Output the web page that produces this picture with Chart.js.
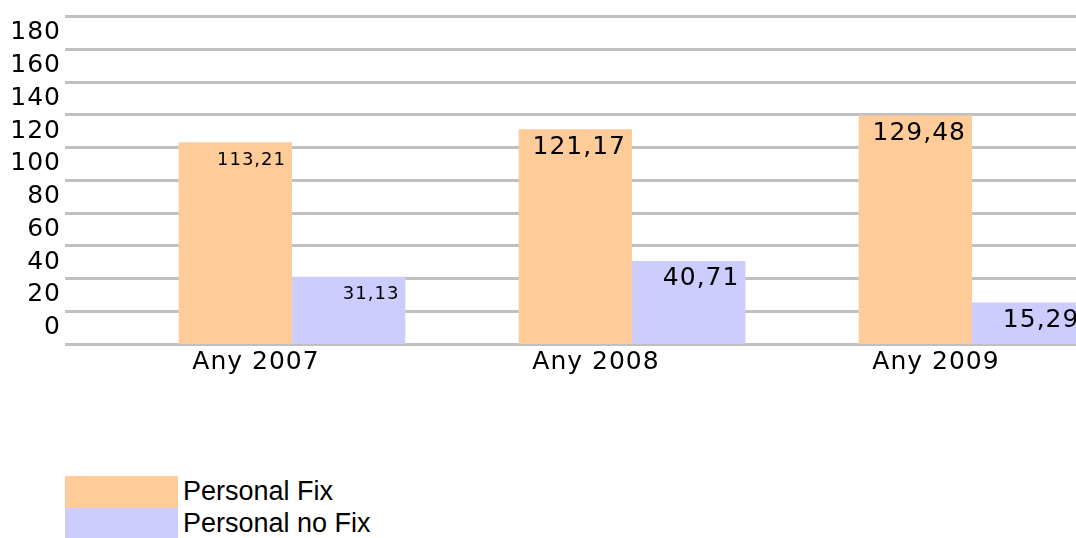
<!DOCTYPE html>
<html>
<head>
<meta charset="utf-8">
<script src="https://cdn.jsdelivr.net/npm/chart.js@4.4.1/dist/chart.umd.min.js"></script>
<style>
  html, body { margin: 0; padding: 0; background: #fff; overflow: hidden; }
  .wrap { position: relative; width: 1150px; height: 390px; }
  .legend { position: absolute; left: 65px; top: 476px; font-family: "Liberation Sans", Arial, sans-serif; font-size: 27px; color: #000; }
  .legend div { display: flex; align-items: center; height: 31.7px; }
  .legend span { display: inline-block; width: 113px; height: 31.7px; margin-right: 5px; }
</style>
</head>
<body>
<div class="wrap"><canvas id="myChart"></canvas></div>
<div class="legend" id="legend"></div>

<script>
// data
const categories = ['Any 2007', 'Any 2008', 'Any 2009'];
const personalFix = [113.21, 121.17, 129.48];
const personalNoFix = [31.13, 40.71, 15.29];
const seriesNames = ['Personal Fix', 'Personal no Fix'];
const yTicks = [0, 20, 40, 60, 80, 100, 120, 140, 160, 180];

const colors = ['#ffcc99', '#ccccff'];
const yMin = -10, yMax = 190;

// value labels inside the bars, decimal comma
const valueLabels = {
  id: 'valueLabels',
  beforeDraw(chart) {
    chart.ctx.letterSpacing = '1px';
  },
  afterDatasetsDraw(chart) {
    const ctx = chart.ctx;
    const sizes = [18, 25, 25];
    ctx.save();
    ctx.fillStyle = '#000';
    ctx.textAlign = 'right';
    ctx.textBaseline = 'middle';
    chart.data.datasets.forEach((ds, d) => {
      chart.getDatasetMeta(d).data.forEach((bar, i) => {
        ctx.font = sizes[i] + 'px "DejaVu Sans"';
        const txt = ds.data[i].toFixed(2).replace('.', ',');
        ctx.fillText(txt, bar.x + bar.width / 2 - 6, bar.y + 18);
      });
    });
    ctx.restore();
  }
};

new Chart(document.getElementById('myChart'), {
  type: 'bar',
  data: {
    labels: categories,
    datasets: [
      { label: seriesNames[0], data: personalFix, backgroundColor: colors[0], base: yMin },
      { label: seriesNames[1], data: personalNoFix, backgroundColor: colors[1], base: yMin }
    ]
  },
  options: {
    responsive: true,
    maintainAspectRatio: false,
    animation: false,
    categoryPercentage: 0.667,
    barPercentage: 1,
    layout: { padding: { top: 15, left: 0, right: 8, bottom: 0 } },
    scales: {
      x: {
        grid: { display: false, drawTicks: false },
        border: { display: false },
        afterFit: function(scale) { scale.height = 46; },
        ticks: {
          labelOffset: -36,
          padding: 3,
          color: '#000',
          font: { family: 'DejaVu Sans', size: 25 }
        }
      },
      y: {
        min: yMin,
        max: yMax,
        afterBuildTicks: function(scale) {
          scale.ticks = yTicks.map(v => ({ value: v }));
        },
        afterFit: function(scale) { scale.width = 122; },
        grid: { offset: true, color: '#c0c0c0', lineWidth: 3, drawTicks: true, tickLength: 57 },
        border: { display: false },
        ticks: {
          padding: 4,
          color: '#000',
          font: { family: 'DejaVu Sans', size: 25, lineHeight: 1 }
        }
      }
    },
    plugins: {
      legend: { display: false },
      tooltip: { enabled: false }
    }
  },
  plugins: [valueLabels]
});

// legend
const legend = document.getElementById('legend');
seriesNames.forEach((name, i) => {
  const row = document.createElement('div');
  row.innerHTML = '<span style="background:' + colors[i] + '"></span>' + name;
  legend.appendChild(row);
});
</script>
</body>
</html>
